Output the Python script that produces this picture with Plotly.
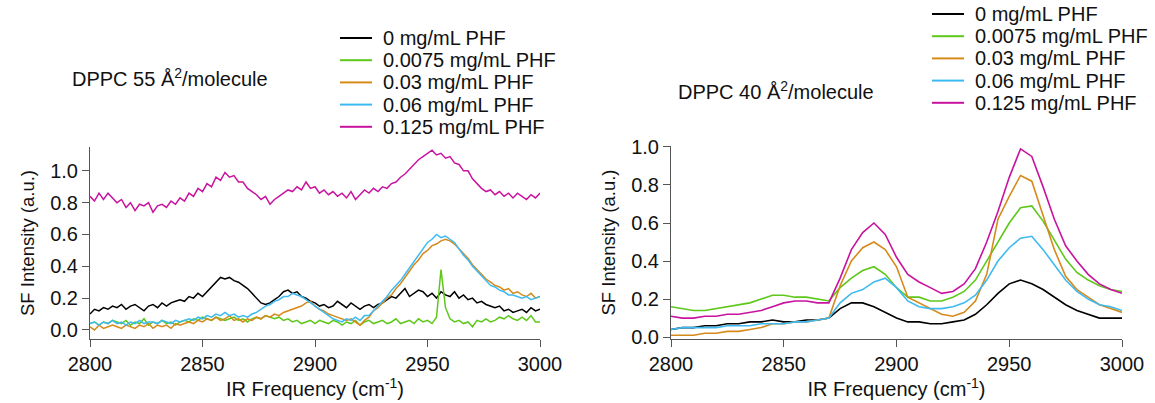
import plotly.graph_objects as go

# ---------------- data: left panel (DPPC 55 A^2/molecule) ----------------
freq_left = list(range(2800, 3001, 2))  # cm^-1, 101 points

left_0 = [0.10, 0.13, 0.12, 0.14, 0.13, 0.15, 0.14, 0.16, 0.13, 0.15,
          0.16, 0.14, 0.12, 0.15, 0.16, 0.14, 0.17, 0.15, 0.17, 0.18,
          0.19, 0.18, 0.21, 0.20, 0.23, 0.21, 0.24, 0.27, 0.30, 0.33,
          0.32, 0.33, 0.31, 0.30, 0.28, 0.26, 0.23, 0.20, 0.17, 0.16,
          0.17, 0.19, 0.21, 0.24, 0.25, 0.23, 0.24, 0.21, 0.20, 0.18,
          0.17, 0.15, 0.16, 0.14, 0.15, 0.18, 0.16, 0.14, 0.17, 0.15,
          0.13, 0.15, 0.16, 0.14, 0.16, 0.17, 0.19, 0.21, 0.20, 0.23,
          0.26, 0.21, 0.23, 0.25, 0.24, 0.21, 0.23, 0.20, 0.24, 0.22,
          0.21, 0.24, 0.20, 0.22, 0.19, 0.20, 0.17, 0.18, 0.16, 0.15,
          0.14, 0.15, 0.12, 0.13, 0.11, 0.12, 0.13, 0.11, 0.14, 0.12,
          0.13]
left_0075 = [0.04, 0.05, 0.03, 0.05, 0.04, 0.06, 0.05, 0.04, 0.06, 0.03,
             0.05, 0.04, 0.07, 0.03, 0.05, 0.04, 0.06, 0.04, 0.05, 0.03,
             0.05, 0.06, 0.05, 0.07, 0.06, 0.08, 0.07, 0.06, 0.08, 0.07,
             0.06, 0.07, 0.08, 0.06, 0.07, 0.05, 0.07, 0.08, 0.07, 0.09,
             0.08, 0.07, 0.08, 0.06, 0.07, 0.05, 0.06, 0.04, 0.05, 0.06,
             0.04, 0.06, 0.05, 0.04, 0.06, 0.05, 0.03, 0.05, 0.04, 0.06,
             0.03, 0.05, 0.06, 0.04, 0.05, 0.06, 0.04, 0.05, 0.07, 0.04,
             0.05, 0.06, 0.04, 0.07, 0.05, 0.06, 0.04, 0.08, 0.38, 0.14,
             0.07, 0.05, 0.06, 0.04, 0.05, 0.02, 0.06, 0.05, 0.07, 0.05,
             0.06, 0.08, 0.07, 0.09, 0.07, 0.06, 0.08, 0.06, 0.09, 0.05,
             0.05]
left_003 = [0.02, 0.00, 0.03, 0.01, 0.02, 0.03, 0.02, 0.01, 0.03, 0.02,
            0.01, 0.03, 0.02, 0.04, 0.01, 0.03, 0.02, 0.03, 0.01, 0.04,
            0.03, 0.04, 0.05, 0.04, 0.06, 0.05, 0.07, 0.06, 0.08, 0.06,
            0.07, 0.09, 0.06, 0.07, 0.05, 0.07, 0.06, 0.08, 0.07, 0.09,
            0.08, 0.10, 0.09, 0.11, 0.12, 0.13, 0.14, 0.15, 0.17, 0.18,
            0.15, 0.13, 0.12, 0.10, 0.09, 0.08, 0.07, 0.06, 0.07, 0.05,
            0.03, 0.06, 0.08, 0.12, 0.14, 0.17, 0.20, 0.22, 0.26, 0.29,
            0.33, 0.37, 0.41, 0.44, 0.48, 0.50, 0.53, 0.54, 0.56, 0.57,
            0.56, 0.54, 0.51, 0.48, 0.45, 0.41, 0.38, 0.35, 0.32, 0.30,
            0.28, 0.27, 0.25, 0.26, 0.23, 0.24, 0.22, 0.21, 0.23, 0.20,
            0.21]
left_006 = [0.04, 0.05, 0.03, 0.05, 0.04, 0.06, 0.04, 0.05, 0.03, 0.05,
            0.04, 0.06, 0.04, 0.05, 0.05, 0.04, 0.06, 0.05, 0.04, 0.06,
            0.05, 0.06, 0.07, 0.06, 0.08, 0.07, 0.09, 0.08, 0.10, 0.09,
            0.11, 0.09, 0.10, 0.08, 0.09, 0.08, 0.10, 0.11, 0.13, 0.15,
            0.16, 0.18, 0.19, 0.21, 0.21, 0.23, 0.22, 0.21, 0.19, 0.17,
            0.15, 0.13, 0.11, 0.09, 0.07, 0.06, 0.05, 0.07, 0.06, 0.08,
            0.06, 0.09, 0.09, 0.12, 0.15, 0.18, 0.21, 0.25, 0.28, 0.31,
            0.35, 0.39, 0.43, 0.47, 0.51, 0.55, 0.57, 0.60, 0.58, 0.59,
            0.57, 0.55, 0.51, 0.47, 0.44, 0.40, 0.37, 0.34, 0.31, 0.28,
            0.27, 0.25, 0.24, 0.22, 0.22, 0.21, 0.20, 0.21, 0.19, 0.20,
            0.21]
left_0125 = [0.84, 0.81, 0.86, 0.82, 0.86, 0.83, 0.80, 0.82, 0.77, 0.80,
             0.75, 0.79, 0.78, 0.80, 0.74, 0.78, 0.79, 0.77, 0.81, 0.79,
             0.83, 0.81, 0.86, 0.84, 0.89, 0.87, 0.92, 0.90, 0.96, 0.94,
             0.99, 0.96, 0.97, 0.93, 0.93, 0.89, 0.87, 0.85, 0.82, 0.84,
             0.79, 0.82, 0.84, 0.86, 0.88, 0.87, 0.90, 0.88, 0.93, 0.89,
             0.90, 0.86, 0.88, 0.85, 0.87, 0.84, 0.86, 0.83, 0.87, 0.82,
             0.85, 0.88, 0.86, 0.89, 0.87, 0.90, 0.89, 0.92, 0.93, 0.96,
             0.98, 1.01, 1.04, 1.07, 1.09, 1.11, 1.13, 1.10, 1.11, 1.08,
             1.09, 1.05, 1.04, 1.00, 1.00, 0.95, 0.92, 0.89, 0.87, 0.88,
             0.85, 0.87, 0.84, 0.86, 0.83, 0.86, 0.84, 0.82, 0.85, 0.83,
             0.86]

# ---------------- data: right panel (DPPC 40 A^2/molecule) ----------------
freq_right = list(range(2800, 3001, 5))  # cm^-1, 41 points

right_0 = [0.04, 0.05, 0.05, 0.06, 0.06, 0.07, 0.07, 0.08, 0.08, 0.09,
           0.08, 0.08, 0.09, 0.09, 0.10, 0.15, 0.18, 0.18, 0.16, 0.13,
           0.10, 0.08, 0.08, 0.07, 0.07, 0.08, 0.09, 0.12, 0.17, 0.23,
           0.28, 0.30, 0.28, 0.25, 0.21, 0.17, 0.14, 0.12, 0.10, 0.10, 0.10]
right_0075 = [0.16, 0.15, 0.14, 0.14, 0.15, 0.16, 0.17, 0.18, 0.20, 0.22,
              0.22, 0.21, 0.21, 0.20, 0.19, 0.26, 0.31, 0.35, 0.37, 0.33,
              0.26, 0.21, 0.21, 0.19, 0.19, 0.21, 0.24, 0.30, 0.40, 0.50,
              0.60, 0.68, 0.69, 0.61, 0.51, 0.41, 0.34, 0.30, 0.27, 0.25, 0.24]
right_003 = [0.01, 0.01, 0.01, 0.02, 0.02, 0.03, 0.03, 0.04, 0.05, 0.07,
             0.07, 0.08, 0.08, 0.09, 0.10, 0.27, 0.40, 0.47, 0.50, 0.46,
             0.37, 0.21, 0.18, 0.15, 0.12, 0.11, 0.13, 0.19, 0.33, 0.62,
             0.74, 0.85, 0.82, 0.64, 0.46, 0.32, 0.25, 0.21, 0.17, 0.15, 0.13]
right_006 = [0.04, 0.05, 0.05, 0.05, 0.05, 0.06, 0.06, 0.06, 0.07, 0.07,
             0.07, 0.08, 0.08, 0.09, 0.10, 0.18, 0.23, 0.25, 0.29, 0.31,
             0.26, 0.19, 0.16, 0.15, 0.15, 0.16, 0.18, 0.22, 0.30, 0.40,
             0.47, 0.52, 0.53, 0.46, 0.38, 0.30, 0.24, 0.20, 0.17, 0.16, 0.14]
right_0125 = [0.11, 0.10, 0.10, 0.11, 0.11, 0.12, 0.12, 0.13, 0.14, 0.16,
              0.18, 0.19, 0.19, 0.18, 0.18, 0.31, 0.46, 0.55, 0.60, 0.54,
              0.42, 0.33, 0.29, 0.26, 0.23, 0.24, 0.28, 0.36, 0.50, 0.66,
              0.84, 0.99, 0.95, 0.79, 0.62, 0.48, 0.40, 0.33, 0.28, 0.25, 0.23]

series_names = ["0 mg/mL PHF", "0.0075 mg/mL PHF", "0.03 mg/mL PHF",
                "0.06 mg/mL PHF", "0.125 mg/mL PHF"]
series_colors = ["#000000", "#5DC81A", "#D68A1C", "#3DBAF2", "#C8139F"]
x_ticks = [2800, 2850, 2900, 2950, 3000]
y_ticks = [0.0, 0.2, 0.4, 0.6, 0.8, 1.0]

left_series = [left_0, left_0075, left_003, left_006, left_0125]
right_series = [right_0, right_0075, right_003, right_006, right_0125]

FONT = "Liberation Sans, Arial, Helvetica, sans-serif"
TXT = "#111111"
W, H = 1155, 403


def px(x):
    return x / W


def py(y):
    return 1 - y / H


fig = go.Figure()
for name, color, ys in zip(series_names, series_colors, left_series):
    fig.add_trace(go.Scatter(x=freq_left[:len(ys)], y=ys, mode="lines",
                             name=name, line=dict(color=color, width=1.5),
                             xaxis="x", yaxis="y", showlegend=False))
for name, color, ys in zip(series_names, series_colors, right_series):
    fig.add_trace(go.Scatter(x=freq_right[:len(ys)], y=ys, mode="lines",
                             name=name, line=dict(color=color, width=1.6),
                             xaxis="x2", yaxis="y2", showlegend=False))

axis_common = dict(showline=True, linecolor="#555555", linewidth=1,
                   ticks="outside", ticklen=7, tickcolor="#555555",
                   showgrid=False, zeroline=False, automargin=False,
                   tickfont=dict(family=FONT, size=20, color=TXT))

xt = dict(text="IR Frequency (cm<sup>-1</sup>)",
          font=dict(family=FONT, size=20, color=TXT), standoff=4)
yt = dict(text="SF Intensity (a.u.)",
          font=dict(family=FONT, size=18.5, color=TXT), standoff=10)

# plot-area geometry (pixels)
L_X0, L_X1, R_X0, R_X1 = 90, 540, 671, 1122
AX_BOTTOM = 339

fig.update_layout(
    width=W, height=H,
    margin=dict(l=0, r=0, t=0, b=0),
    paper_bgcolor="white", plot_bgcolor="white",
    font=dict(family=FONT, color=TXT),
    showlegend=False,
    xaxis=dict(domain=[px(L_X0), px(L_X1)], range=[2800, 3000],
               tickvals=x_ticks, anchor="y", title=xt, **axis_common),
    yaxis=dict(domain=[py(AX_BOTTOM), py(147)], range=[-0.057, 1.15],
               tickvals=y_ticks, tickformat=".1f",
               anchor="x", title=yt, **axis_common),
    xaxis2=dict(domain=[px(R_X0), px(R_X1)], range=[2800, 3000],
                tickvals=x_ticks, anchor="y2", title=xt, **axis_common),
    yaxis2=dict(domain=[py(AX_BOTTOM), py(146)], range=[-0.01, 1.005],
                tickvals=y_ticks, tickformat=".1f",
                anchor="x2", title=yt, **axis_common),
)

# titles of the two panels
annotations = [
    dict(text="DPPC 55 Å<sup>2</sup>/molecule", x=px(70), y=py(77),
         xref="paper", yref="paper", xanchor="left", yanchor="middle",
         showarrow=False, font=dict(family=FONT, size=20, color=TXT)),
    dict(text="DPPC 40 Å<sup>2</sup>/molecule", x=px(676), y=py(90),
         xref="paper", yref="paper", xanchor="left", yanchor="middle",
         showarrow=False, font=dict(family=FONT, size=20, color=TXT)),
]
shapes = []

# hand-built legends (one per panel), drawn from the series names/colours
legend_specs = [(340, 38), (932, 14)]  # (line start x, first row y) in px
ROW = 22.2
for lx, ly in legend_specs:
    for i, (name, color) in enumerate(zip(series_names, series_colors)):
        yy = ly + i * ROW
        shapes.append(dict(type="line", xref="paper", yref="paper",
                           x0=px(lx), x1=px(lx + 32), y0=py(yy), y1=py(yy),
                           line=dict(color=color, width=2)))
        annotations.append(dict(text=name, x=px(lx + 41), y=py(yy),
                                xref="paper", yref="paper",
                                xanchor="left", yanchor="middle",
                                showarrow=False,
                                font=dict(family=FONT, size=20, color=TXT)))

fig.update_layout(annotations=annotations, shapes=shapes)

fig.write_html("out.html")
